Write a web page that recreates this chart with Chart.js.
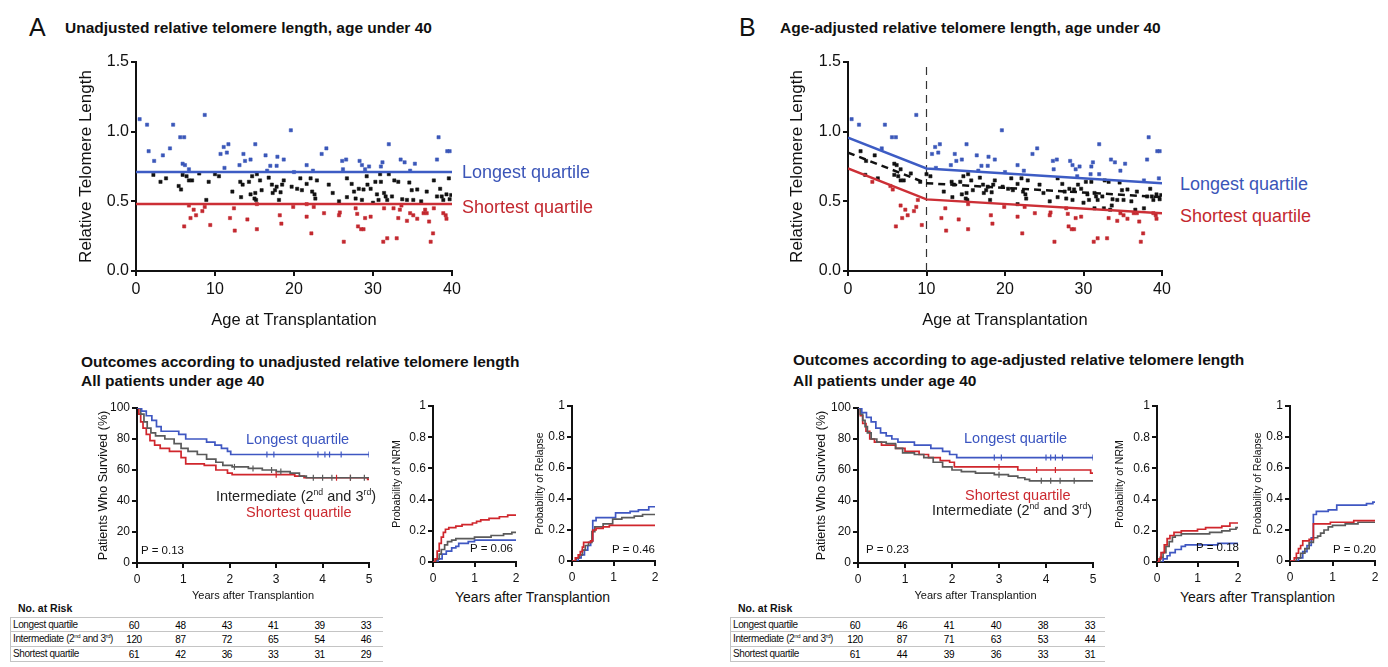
<!DOCTYPE html>
<html>
<head>
<meta charset="utf-8">
<script src="https://cdn.jsdelivr.net/npm/chart.js@4.4.0/dist/chart.umd.min.js"></script>
<style>
body{margin:0;background:#fff;font-family:"Liberation Sans",Arial,sans-serif;}
#fig{position:relative;width:1388px;height:667px;overflow:hidden;background:#fff;}
#fig canvas{position:absolute;}
.t{position:absolute;white-space:nowrap;color:#111;line-height:1;z-index:2;}
.b{font-weight:bold;}
sup{font-size:0.6em;vertical-align:top;line-height:0;position:relative;top:0.3em;}
.row{position:absolute;height:15px;border:1px solid #c4c4c4;border-right:none;box-sizing:border-box;font-size:10px;letter-spacing:-0.4px;}
.cell{position:absolute;top:2px;font-size:10px;transform:translateX(-50%);}
</style>
</head>
<body>
<div id="fig">
  <div class="t" style="left:29px;top:15px;font-size:25px;">A</div>
  <div class="t b" style="left:65px;top:20px;font-size:15.5px;">Unadjusted relative telomere length, age under 40</div>
  <div class="t" style="left:739px;top:15px;font-size:25px;">B</div>
  <div class="t b" style="left:780px;top:20px;font-size:15.5px;">Age-adjusted relative telomere length, age under 40</div>

  <div class="t" style="left:462px;top:163px;font-size:18px;color:#3b55b8;">Longest quartile</div>
  <div class="t" style="left:462px;top:198px;font-size:18px;color:#c3282f;">Shortest quartile</div>
  <div class="t" style="left:1180px;top:175px;font-size:18px;color:#3b55b8;">Longest quartile</div>
  <div class="t" style="left:1180px;top:207px;font-size:18px;color:#c3282f;">Shortest quartile</div>

  <div class="t b" style="left:81px;top:354px;font-size:15.5px;">Outcomes according to unadjusted relative telomere length</div>
  <div class="t b" style="left:81px;top:373px;font-size:15.5px;">All patients under age 40</div>
  <div class="t b" style="left:793px;top:352px;font-size:15.5px;">Outcomes according to age-adjusted relative telomere length</div>
  <div class="t b" style="left:793px;top:373px;font-size:15.5px;">All patients under age 40</div>

  <div class="t" style="left:246px;top:432px;font-size:14.5px;color:#3b55c0;">Longest quartile</div>
  <div class="t" style="left:216px;top:489px;font-size:14.5px;color:#222;">Intermediate (2<sup>nd</sup> and 3<sup>rd</sup>)</div>
  <div class="t" style="left:246px;top:505px;font-size:14.5px;color:#cc2a30;">Shortest quartile</div>
  <div class="t" style="left:964px;top:431px;font-size:14.5px;color:#3b55c0;">Longest quartile</div>
  <div class="t" style="left:965px;top:488px;font-size:14.5px;color:#cc2a30;">Shortest quartile</div>
  <div class="t" style="left:932px;top:503px;font-size:14.5px;color:#222;">Intermediate (2<sup>nd</sup> and 3<sup>rd</sup>)</div>

  <div class="t" style="left:141px;top:545px;font-size:11.5px;">P = 0.13</div>
  <div class="t" style="left:470px;top:543px;font-size:11.5px;">P = 0.06</div>
  <div class="t" style="left:612px;top:544px;font-size:11.5px;">P = 0.46</div>
  <div class="t" style="left:866px;top:544px;font-size:11.5px;">P = 0.23</div>
  <div class="t" style="left:1196px;top:542px;font-size:11.5px;">P = 0.18</div>
  <div class="t" style="left:1333px;top:544px;font-size:11.5px;">P = 0.20</div>

  <div class="t" style="left:455px;top:590px;font-size:14px;">Years after Transplantion</div>
  <div class="t" style="left:1180px;top:590px;font-size:14px;">Years after Transplantion</div>

  <div class="t b" style="left:18px;top:603px;font-size:10.5px;">No. at Risk</div>
  <div class="t b" style="left:738px;top:603px;font-size:10.5px;">No. at Risk</div>
</div>
<script>
// scatter: [age, relative telomere length]
const longA = [[0.46,1.09],[1.4,1.05],[1.6,0.86],[2.3,0.79],[3.4,0.83],[4.3,0.88],[4.7,1.05],[5.6,0.96],[6.1,0.96],[5.9,0.77],[6.2,0.76],[6.7,0.73],[8.7,1.12],[10.7,0.84],[11.1,0.89],[11.5,0.85],[11.7,0.91],[11.2,0.74],[13.1,0.76],[13.6,0.84],[13.8,0.79],[14.5,0.80],[15.1,0.91],[16.4,0.83],[17.0,0.755],[16.6,0.72],[17.9,0.82],[17.8,0.755],[18.7,0.80],[19.6,1.01],[20.0,0.71],[21.6,0.76],[22.4,0.72],[23.5,0.84],[24.1,0.88],[26.1,0.79],[26.6,0.80],[26.2,0.73],[28.3,0.79],[28.6,0.76],[29.0,0.73],[29.5,0.75],[31.0,0.75],[31.2,0.78],[32.0,0.91],[33.5,0.80],[34.0,0.78],[34.7,0.72],[35.3,0.77],[38.1,0.80],[38.3,0.96],[39.4,0.86],[39.7,0.86]];
const midA = [[2.2,0.69],[3.1,0.64],[3.8,0.665],[5.4,0.61],[5.7,0.585],[5.9,0.69],[6.4,0.68],[6.7,0.65],[7.1,0.65],[8.0,0.70],[8.9,0.51],[9.2,0.64],[10.0,0.695],[10.5,0.68],[12.2,0.57],[13.2,0.64],[13.3,0.53],[13.5,0.62],[14.3,0.64],[14.5,0.55],[14.7,0.68],[15.0,0.52],[15.1,0.56],[15.2,0.51],[15.3,0.695],[15.7,0.65],[15.9,0.58],[16.8,0.67],[17.2,0.62],[17.3,0.56],[17.6,0.58],[17.8,0.605],[18.1,0.51],[18.3,0.565],[18.5,0.62],[18.7,0.65],[19.7,0.605],[20.4,0.59],[20.8,0.665],[21.0,0.58],[21.6,0.625],[22.1,0.665],[22.3,0.57],[22.6,0.55],[22.7,0.52],[22.9,0.65],[24.4,0.62],[24.9,0.56],[25.7,0.50],[26.7,0.665],[26.7,0.53],[27.3,0.625],[27.6,0.57],[27.8,0.52],[28.2,0.59],[28.6,0.51],[28.8,0.585],[29.2,0.68],[29.3,0.62],[29.7,0.59],[30.0,0.49],[30.3,0.64],[30.5,0.55],[30.7,0.51],[30.9,0.695],[31.0,0.64],[31.4,0.56],[31.6,0.535],[31.8,0.51],[32.0,0.695],[32.4,0.535],[32.7,0.65],[33.2,0.64],[33.7,0.515],[34.3,0.51],[34.6,0.635],[34.9,0.58],[35.1,0.51],[35.6,0.585],[36.1,0.50],[36.8,0.57],[37.7,0.65],[38.1,0.535],[38.5,0.59],[38.7,0.535],[38.9,0.51],[39.3,0.55],[39.6,0.665],[39.7,0.515],[39.9,0.545]];
const shortA = [[6.1,0.32],[6.7,0.47],[6.9,0.38],[7.3,0.44],[7.6,0.40],[8.4,0.43],[8.7,0.46],[9.4,0.33],[11.9,0.38],[12.4,0.45],[12.5,0.29],[14.1,0.37],[15.3,0.30],[15.3,0.48],[18.2,0.40],[18.4,0.34],[19.9,0.46],[21.6,0.48],[21.6,0.39],[22.2,0.27],[22.5,0.46],[23.8,0.415],[25.7,0.40],[25.8,0.42],[26.3,0.21],[27.8,0.45],[28.0,0.41],[28.1,0.32],[28.5,0.30],[28.8,0.30],[29.0,0.38],[29.7,0.39],[31.3,0.21],[31.8,0.235],[31.4,0.45],[32.6,0.45],[33.0,0.235],[33.2,0.38],[33.4,0.44],[33.6,0.47],[34.3,0.36],[34.7,0.415],[35.1,0.40],[35.6,0.375],[36.4,0.415],[36.6,0.44],[36.8,0.415],[37.1,0.355],[37.3,0.21],[37.6,0.27],[37.7,0.45],[38.9,0.415],[39.2,0.40],[39.3,0.375]];

const longLineA = [[0,0.71],[40,0.71]];
const shortLineA = [[0,0.48],[40,0.48]];
const longLineB = [[0,0.957],[10,0.736],[40,0.63]];
const shortLineB = [[0,0.736],[10,0.514],[40,0.414]];
const medLineB = [[0,0.85],[10,0.63],[40,0.53]];

// survival (%) by years
const kmA_long = [[0,100],[0.1,98],[0.2,95],[0.32,92],[0.42,88],[0.52,85],[0.9,83],[1.05,80],[1.5,78],[1.68,76],[1.82,74],[1.95,72],[2.02,70],[5,70]];
const kmA_mid = [[0,100],[0.08,96],[0.15,91],[0.22,87],[0.3,84],[0.4,82],[0.6,80],[0.8,77],[0.95,74],[1.1,72],[1.3,70],[1.5,67],[1.7,65],[1.85,63],[2.05,62],[2.4,61],[2.7,60],[3.0,59],[3.3,58],[3.5,56],[3.65,55],[5,55]];
const kmA_short = [[0,100],[0.04,96],[0.08,91],[0.13,87],[0.2,83],[0.28,79],[0.38,76],[0.5,74],[0.7,72],[0.95,68],[1.05,64],[1.45,63],[1.7,60],[1.95,58],[2.05,57],[3.2,57],[3.4,56],[3.6,55],[4.95,55],[4.97,54],[5,54]];
const cenA_long = [[2.8,70],[2.95,70],[3.9,70],[4.05,70],[4.15,70],[4.4,70],[5,70]];
const cenA_mid = [[2.1,62],[2.5,61],[2.9,60],[3.1,59],[3.8,55],[4.0,55],[4.2,55],[4.6,55],[4.9,55]];
const cenA_short = [[3.0,57],[4.3,55],[4.6,55]];

const kmB_long = [[0,100],[0.08,97],[0.18,94],[0.28,91],[0.38,87],[0.48,84],[0.6,82],[0.72,80],[0.85,78],[1.2,76],[1.55,74],[1.8,72],[1.95,70],[2.1,68],[5,68]];
const kmB_mid = [[0,100],[0.05,96],[0.1,92],[0.15,88],[0.2,84],[0.28,80],[0.4,78],[0.6,77],[0.8,74],[0.95,71],[1.2,70],[1.4,68],[1.6,65],[1.8,62],[2.0,60],[2.2,59],[2.5,58],[2.9,57],[3.2,56],[3.4,55],[3.55,54],[3.65,53],[5,53]];
const kmB_short = [[0,100],[0.05,95],[0.1,90],[0.17,85],[0.25,80],[0.35,78],[0.5,76],[0.8,74],[1.0,72],[1.3,70],[1.5,68],[1.75,66],[1.95,65],[2.05,62],[3.3,62],[3.4,60],[4.9,60],[4.95,58],[5,58]];
const cenB_long = [[2.9,68],[3.05,68],[4.0,68],[4.1,68],[4.2,68],[4.35,68],[5,68]];
const cenB_mid = [[3.0,57],[3.9,53],[4.1,53],[4.3,53],[4.6,53]];
const cenB_short = [[3.0,62],[3.8,60],[4.2,60]];

// cumulative incidence by years
const nrmA_short = [[0,0],[0.05,0.02],[0.1,0.07],[0.15,0.12],[0.2,0.16],[0.25,0.19],[0.3,0.21],[0.38,0.22],[0.55,0.23],[0.7,0.24],[0.95,0.25],[1.05,0.26],[1.15,0.27],[1.35,0.28],[1.6,0.29],[1.8,0.30],[2,0.30]];
const nrmA_mid = [[0,0],[0.08,0.02],[0.15,0.05],[0.2,0.08],[0.28,0.11],[0.35,0.13],[0.45,0.14],[0.55,0.15],[1.0,0.16],[1.4,0.17],[1.7,0.18],[1.9,0.19],[2,0.19]];
const nrmA_long = [[0,0],[0.12,0.02],[0.22,0.05],[0.32,0.07],[0.45,0.09],[0.55,0.1],[0.62,0.12],[0.85,0.13],[1.0,0.14],[2,0.14]];
const relA_short = [[0,0],[0.08,0.02],[0.15,0.04],[0.2,0.06],[0.25,0.09],[0.28,0.12],[0.45,0.13],[0.5,0.2],[0.58,0.21],[0.75,0.22],[0.9,0.23],[2,0.23]];
const relA_mid = [[0,0],[0.1,0.02],[0.18,0.04],[0.25,0.07],[0.32,0.1],[0.4,0.12],[0.48,0.19],[0.55,0.22],[0.75,0.24],[0.98,0.27],[1.2,0.28],[1.5,0.29],[1.7,0.30],[2,0.30]];
const relA_long = [[0,0],[0.15,0.02],[0.22,0.04],[0.3,0.07],[0.38,0.1],[0.45,0.13],[0.5,0.26],[0.58,0.28],[1.05,0.31],[1.4,0.32],[1.6,0.33],[1.85,0.35],[2,0.35]];

const nrmB_short = [[0,0],[0.05,0.02],[0.1,0.06],[0.18,0.11],[0.25,0.15],[0.32,0.17],[0.42,0.19],[0.6,0.2],[1.0,0.21],[1.2,0.22],[1.6,0.23],[1.8,0.25],[2,0.25]];
const nrmB_mid = [[0,0],[0.08,0.03],[0.15,0.06],[0.22,0.1],[0.3,0.13],[0.38,0.16],[0.45,0.17],[0.6,0.18],[1.3,0.19],[1.6,0.2],[1.8,0.21],[1.95,0.22],[2,0.22]];
const nrmB_long = [[0,0],[0.15,0.02],[0.25,0.04],[0.32,0.06],[0.45,0.08],[0.6,0.1],[0.7,0.11],[1.5,0.12],[2,0.12]];
const relB_short = [[0,0],[0.1,0.02],[0.15,0.05],[0.2,0.08],[0.25,0.1],[0.3,0.13],[0.45,0.14],[0.55,0.24],[0.95,0.25],[1.5,0.26],[2,0.26]];
const relB_mid = [[0,0],[0.15,0.02],[0.25,0.05],[0.35,0.08],[0.45,0.12],[0.55,0.15],[0.65,0.16],[0.72,0.18],[0.8,0.2],[0.9,0.22],[1.0,0.23],[1.3,0.24],[1.6,0.25],[2,0.25]];
const relB_long = [[0,0],[0.2,0.02],[0.3,0.06],[0.4,0.1],[0.5,0.15],[0.55,0.3],[0.62,0.32],[0.9,0.33],[1.1,0.36],[1.8,0.37],[1.95,0.38],[2,0.38]];

// numbers at risk, years 0..5
const riskLabels = ['Longest quartile','Intermediate (2nd and 3rd)','Shortest quartile'];
const riskA = [[60,48,43,41,39,33],[120,87,72,65,54,46],[61,42,36,33,31,29]];
const riskB = [[60,46,41,40,38,33],[120,87,71,63,53,44],[61,44,39,36,33,31]];

const BLUE = '#3a57b9', RED = '#c3282f', BLK = '#111';
const KBLUE = '#3f57c2', KGRAY = '#5a5a5a', KRED = '#d0262c';

const xy = a => a.map(p => ({x: p[0], y: p[1]}));
function lineAt(line, x) {
  for (let i = 0; i < line.length - 1; i++) {
    const [x0, y0] = line[i], [x1, y1] = line[i + 1];
    if (x <= x1) return y0 + (y1 - y0) * (x - x0) / (x1 - x0);
  }
  return line[line.length - 1][1];
}
// age-adjusted groups: same samples, re-split by the age-adjusted quartile lines
const allPts = longA.concat(midA, shortA);
const longB = allPts.filter(p => p[1] > lineAt(longLineB, p[0]));
const shortB = allPts.filter(p => p[1] < lineAt(shortLineB, p[0]));
const midB = allPts.filter(p => !longB.includes(p) && !shortB.includes(p));

Chart.defaults.font.family = '"Liberation Sans", Arial, sans-serif';
Chart.defaults.color = '#111';

function axis(min, max, step, size, fmt, title, tsize, which) {
  return {
    type: 'linear', min: min, max: max,
    border: {display: true, color: '#111', width: 2},
    grid: {display: true, drawOnChartArea: false, drawTicks: true, tickLength: 5, color: '#111', lineWidth: 2},
    ticks: {stepSize: step, color: '#111', font: {size: size}, padding: which == 'x' ? 4 : 2,
            callback: fmt, maxRotation: 0, autoSkip: false},
    title: {display: !!title, text: title, color: '#111', font: {size: tsize}, padding: {top: 4, bottom: 4}}
  };
}

function panel(box, plot, datasets, xs, ys) {
  const c = document.createElement('canvas');
  const W = box.r - box.l, H = box.b - box.t;
  c.width = W; c.height = H;
  c.style.left = box.l + 'px'; c.style.top = box.t + 'px';
  c.style.width = W + 'px'; c.style.height = H + 'px';
  document.getElementById('fig').appendChild(c);
  xs.afterFit = sc => { sc.height = box.b - plot.b; };
  ys.afterFit = sc => { sc.width = plot.l - box.l; };
  return new Chart(c, {
    type: 'scatter',
    data: {datasets: datasets},
    options: {
      responsive: false, animation: false, devicePixelRatio: 1,
      layout: {padding: {left: 0, top: plot.t - box.t, right: box.r - plot.r, bottom: 0}},
      plugins: {legend: {display: false}, tooltip: {enabled: false}},
      scales: {x: xs, y: ys}
    }
  });
}

const pts = (d, col, ord) => ({data: xy(d), pointStyle: 'rect', pointRadius: 2.3, backgroundColor: col, borderColor: col, borderWidth: 0.5, order: ord});
const ln = (d, col, w, ord, dash) => ({data: xy(d), showLine: true, pointRadius: 0, borderColor: col, borderWidth: w, borderDash: dash || [], order: ord});
const step = (d, col) => ({data: xy(d), showLine: true, stepped: true, pointRadius: 0, borderColor: col, borderWidth: 1.7, order: 2});
const cens = (d, col) => ({data: xy(d), pointStyle: 'line', rotation: 90, pointRadius: 3, borderColor: col, borderWidth: 1.2, order: 1});

const f1 = v => v.toFixed(1);
const fInt = v => String(Math.round(v));
const fProb = v => String(Math.round(v * 10) / 10);

// A scatter
panel({l: 72, t: 50, r: 466, b: 334}, {l: 136, t: 62, r: 452, b: 271}, [
  ln(longLineA, '#3d5cc4', 2.5, 1), ln(shortLineA, '#cc2f36', 2.5, 1),
  pts(longA, BLUE, 2), pts(midA, BLK, 2), pts(shortA, RED, 2)
], axis(0, 40, 10, 16, fInt, 'Age at Transplantation', 16.5, 'x'),
   axis(0, 1.5, 0.5, 16, f1, 'Relative Telomere Length', 17, 'y'));

// B scatter
panel({l: 783, t: 50, r: 1176, b: 334}, {l: 848, t: 62, r: 1162, b: 271}, [
  ln(longLineB, '#3d5cc4', 2.5, 1), ln(shortLineB, '#cc2f36', 2.5, 1), ln(medLineB, '#111', 2.5, 1, [7, 5]),
  ln([[10, 0], [10, 1.5]], '#333', 1.2, 3, [8, 6]),
  pts(longB, BLUE, 2), pts(midB, BLK, 2), pts(shortB, RED, 2)
], axis(0, 40, 10, 16, fInt, 'Age at Transplantation', 16.5, 'x'),
   axis(0, 1.5, 0.5, 16, f1, 'Relative Telomere Length', 17, 'y'));

// A survival + NRM + relapse
const kmA = panel({l: 92, t: 398, r: 378, b: 607}, {l: 137, t: 408, r: 369, b: 563}, [
  step(kmA_long, KBLUE), step(kmA_mid, KGRAY), step(kmA_short, KRED),
  cens(cenA_long, KBLUE), cens(cenA_mid, KGRAY), cens(cenA_short, KRED)
], axis(0, 5, 1, 12, fInt, 'Years after Transplantion', 11, 'x'),
   axis(0, 100, 20, 12, fInt, 'Patients Who Survived (%)', 12.5, 'y'));

panel({l: 387, t: 396, r: 524, b: 585}, {l: 433, t: 406, r: 516, b: 562}, [
  step(nrmA_short, KRED), step(nrmA_mid, KGRAY), step(nrmA_long, KBLUE)
], axis(0, 2, 1, 12, fInt, '', 11, 'x'),
   axis(0, 1, 0.2, 12, fProb, 'Probability of NRM', 10.5, 'y'));

panel({l: 530, t: 396, r: 663, b: 585}, {l: 572, t: 406, r: 655, b: 561}, [
  step(relA_short, KRED), step(relA_mid, KGRAY), step(relA_long, KBLUE)
], axis(0, 2, 1, 12, fInt, '', 11, 'x'),
   axis(0, 1, 0.2, 12, fProb, 'Probability of Relapse', 10.5, 'y'));

// B survival + NRM + relapse
const kmB = panel({l: 810, t: 398, r: 1102, b: 607}, {l: 858, t: 408, r: 1093, b: 563}, [
  step(kmB_long, KBLUE), step(kmB_mid, KGRAY), step(kmB_short, KRED),
  cens(cenB_long, KBLUE), cens(cenB_mid, KGRAY), cens(cenB_short, KRED)
], axis(0, 5, 1, 12, fInt, 'Years after Transplantion', 11, 'x'),
   axis(0, 100, 20, 12, fInt, 'Patients Who Survived (%)', 12.5, 'y'));

panel({l: 1110, t: 396, r: 1246, b: 585}, {l: 1157, t: 406, r: 1238, b: 562}, [
  step(nrmB_short, KRED), step(nrmB_mid, KGRAY), step(nrmB_long, KBLUE)
], axis(0, 2, 1, 12, fInt, '', 11, 'x'),
   axis(0, 1, 0.2, 12, fProb, 'Probability of NRM', 10.5, 'y'));

panel({l: 1248, t: 396, r: 1386, b: 585}, {l: 1290, t: 406, r: 1375, b: 561}, [
  step(relB_short, KRED), step(relB_mid, KGRAY), step(relB_long, KBLUE)
], axis(0, 2, 1, 12, fInt, '', 11, 'x'),
   axis(0, 1, 0.2, 12, fProb, 'Probability of Relapse', 10.5, 'y'));

// numbers-at-risk tables, columns aligned with the survival x axis
function riskTable(chart, rows, left, width, top) {
  const fig = document.getElementById('fig');
  rows.forEach((vals, r) => {
    const d = document.createElement('div');
    d.className = 'row';
    d.style.left = left + 'px'; d.style.top = (top + r * 15) + 'px'; d.style.width = width + 'px';
    if (r > 0) d.style.borderTop = 'none';
    const lab = document.createElement('div');
    lab.className = 't';
    lab.style.left = '2px'; lab.style.top = '2px'; lab.style.fontSize = '10px';
    lab.innerHTML = riskLabels[r].replace(/(\d)(nd|rd)/g, '$1<sup>$2</sup>');
    d.appendChild(lab);
    vals.forEach((v, i) => {
      const c = document.createElement('div');
      c.className = 'cell';
      c.style.left = (chart.scales.x.getPixelForValue(i) + chart.canvas.offsetLeft - left - 4) + 'px';
      c.textContent = v;
      d.appendChild(c);
    });
    fig.appendChild(d);
  });
}
riskTable(kmA, riskA, 10, 373, 617);
riskTable(kmB, riskB, 730, 375, 617);
</script>
</body>
</html>
